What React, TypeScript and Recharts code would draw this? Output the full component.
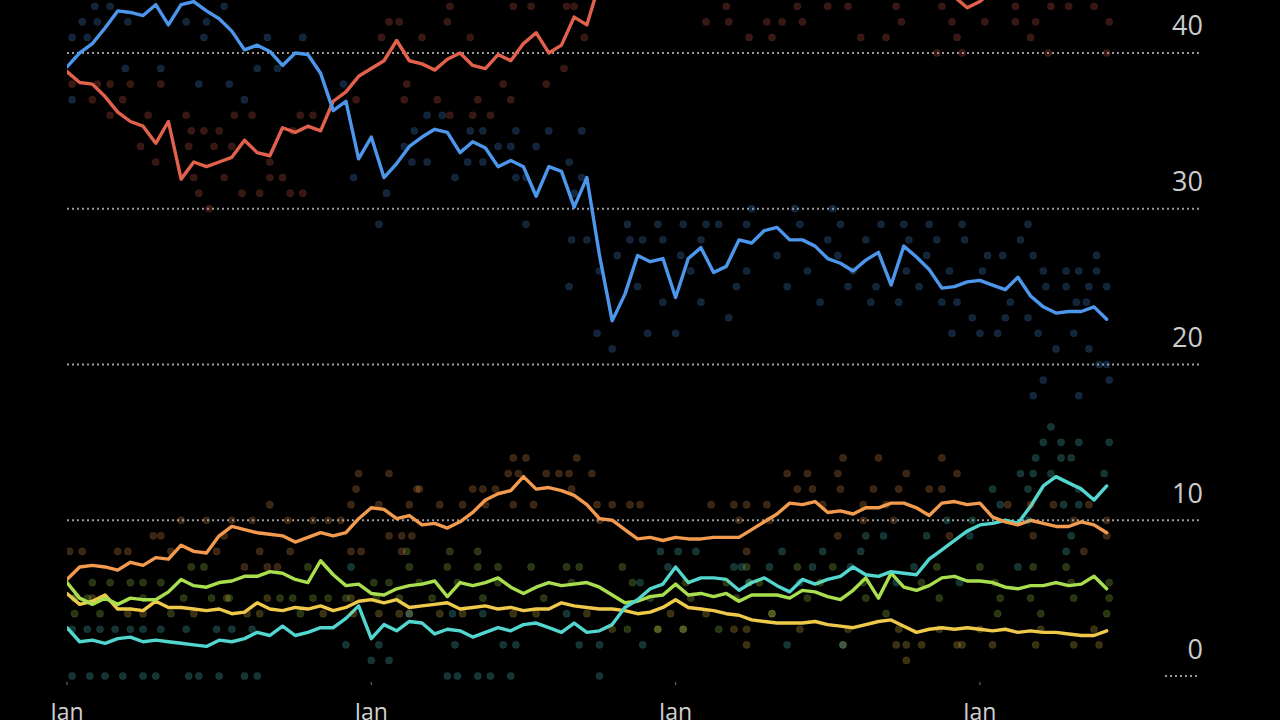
import React from 'react';
import { ComposedChart, Line, Scatter, XAxis, YAxis, CartesianGrid, ReferenceLine } from 'recharts';

// polling averages, one value every half month from January of the first year
const blue = [
  39.1, 40.0, 40.6, 41.6, 42.7, 42.6, 42.4, 43.1, 41.8, 43.1, 43.3, 42.7, 42.2, 41.4, 40.2, 40.5, 40.1, 39.2, 40.0, 39.9,
  38.7, 36.3, 36.9, 33.2, 34.6, 32.0, 32.9, 34.0, 34.6, 35.1, 34.9, 33.6, 34.3, 33.9, 32.7, 33.1, 32.7, 30.8, 32.7, 32.4,
  30.1, 32.0, 27.0, 22.8, 24.5, 27.0, 26.6, 26.8, 24.3, 26.8, 27.5, 25.9, 26.3, 28.0, 27.8, 28.6, 28.8, 28.0, 28.0, 27.6,
  26.8, 26.5, 26.0, 26.7, 27.2, 25.1, 27.6, 26.9, 26.1, 24.9, 25.0, 25.3, 25.4, 25.1, 24.8, 25.6, 24.4, 23.7, 23.3, 23.4,
  23.4, 23.7, 22.9,
];
const red = [
  38.8, 38.1, 38.0, 37.2, 36.2, 35.6, 35.3, 34.2, 35.6, 31.9, 33.0, 32.7, 33.0, 33.3, 34.4, 33.6, 33.4, 35.2, 34.9, 35.3,
  35.0, 36.9, 37.5, 38.5, 39.0, 39.5, 40.8, 39.5, 39.3, 38.9, 39.6, 40.0, 39.2, 39.0, 39.9, 39.5, 40.6, 41.3, 40.0, 40.5,
  42.3, 41.8, 44.5, 46.0, 47.0, 48.0, 47.0, 46.5, 46.0, 46.0, 47.0, 46.0, 45.5, 46.0, 45.0, 45.0, 45.5, 46.0, 45.0, 45.0,
  46.0, 45.0, 45.0, 45.5, 45.0, 44.5, 45.0, 44.5, 44.2, 44.0, 43.6, 42.9, 43.3, 44.0, 45.0, 44.5, 44.5, 44.8, 44.5, 44.3,
  44.5, 44.2, 44.0,
];
const orange = [
  6.2, 7.0, 7.1, 7.0, 6.8, 7.3, 7.1, 7.6, 7.5, 8.4, 8.0, 7.9, 9.0, 9.6, 9.4, 9.2, 9.1, 9.0, 8.6, 8.9,
  9.2, 9.0, 9.2, 10.1, 10.8, 10.7, 10.1, 10.3, 9.7, 9.8, 9.5, 9.9, 10.5, 11.3, 11.7, 11.9, 12.8, 12.0, 12.1, 11.9,
  11.6, 11.0, 10.1, 10.0, 9.4, 8.8, 8.9, 8.7, 8.9, 8.8, 8.8, 8.9, 8.9, 8.9, 9.4, 9.9, 10.4, 11.1, 11.0, 11.2,
  10.5, 10.6, 10.4, 10.8, 10.8, 11.1, 11.1, 10.8, 10.3, 11.1, 11.2, 11.0, 11.1, 10.2, 9.9, 9.7, 10.0, 9.8, 9.6, 9.6,
  9.9, 9.7, 9.2,
];
const green = [
  6.0, 5.0, 4.6, 5.0, 4.6, 5.0, 4.9, 4.9, 5.4, 6.2, 5.8, 5.7, 6.0, 6.1, 6.4, 6.4, 6.7, 6.6, 6.2, 6.0,
  7.4, 6.5, 5.8, 5.9, 5.3, 5.2, 5.6, 5.8, 5.9, 6.1, 5.1, 6.0, 5.8, 6.0, 6.3, 5.7, 5.3, 5.7, 6.0, 5.8,
  5.9, 6.0, 5.7, 5.2, 4.7, 4.8, 5.1, 5.2, 5.9, 5.2, 5.3, 5.1, 5.3, 4.8, 5.2, 5.2, 5.2, 5.0, 5.5, 5.4,
  5.1, 4.9, 5.5, 6.3, 5.0, 6.6, 5.7, 5.5, 5.8, 6.3, 6.4, 6.1, 6.1, 6.0, 5.7, 5.6, 5.8, 5.8, 6.0, 5.8,
  5.9, 6.4, 5.6,
];
const cyan = [
  3.1, 2.2, 2.3, 2.1, 2.4, 2.5, 2.2, 2.3, 2.2, 2.1, 2.0, 1.9, 2.3, 2.2, 2.4, 2.8, 2.6, 3.2, 2.6, 2.8,
  3.1, 3.1, 3.7, 4.5, 2.4, 3.3, 2.9, 3.5, 3.4, 2.7, 3.0, 2.9, 2.5, 2.8, 3.1, 2.9, 3.3, 3.4, 3.1, 2.8,
  3.4, 2.8, 2.9, 3.3, 4.4, 4.9, 5.6, 5.9, 7.0, 6.0, 6.3, 6.3, 6.2, 5.5, 6.0, 6.3, 5.8, 5.4, 6.2, 5.9,
  6.2, 6.4, 7.0, 6.5, 6.4, 6.7, 6.6, 6.5, 7.5, 8.1, 8.7, 9.3, 9.7, 9.8, 10.0, 9.8, 10.9, 12.2, 12.8, 12.4,
  12.0, 11.3, 12.2,
];
const yellow = [
  5.3, 4.6, 4.8, 5.2, 4.3, 4.3, 4.2, 4.8, 4.4, 4.4, 4.3, 4.2, 4.3, 4.0, 4.1, 4.7, 4.3, 4.2, 4.4, 4.3,
  4.5, 4.2, 4.4, 4.8, 4.9, 4.7, 4.9, 4.4, 4.5, 4.6, 4.7, 4.3, 4.4, 4.5, 4.3, 4.4, 4.2, 4.3, 4.3, 4.7,
  4.5, 4.4, 4.3, 4.3, 4.2, 4.0, 4.1, 4.4, 4.9, 4.4, 4.3, 4.2, 4.0, 3.9, 3.6, 3.5, 3.4, 3.4, 3.4, 3.5,
  3.3, 3.2, 3.1, 3.3, 3.5, 3.6, 3.2, 2.8, 3.0, 3.1, 3.0, 3.1, 3.0, 2.9, 3.0, 2.8, 2.9, 2.8, 2.8, 2.7,
  2.6, 2.6, 2.9,
];

// individual polls: [month, share]
const bluePolls = [
  [1.1, 43], [1.7, 43], [6.2, 43], [0.6, 42], [1.2, 42], [2.4, 42], [4.7, 42], [5.5, 42],
  [0.2, 41], [0.8, 41], [5.4, 41], [7.9, 41], [9.3, 41], [2.3, 39], [3.7, 39], [7.5, 39], [8.3, 39],
  [5.2, 38], [6.4, 38], [10.9, 38], [0.2, 37], [7.0, 37], [14.2, 36], [14.8, 36],
  [13.7, 35], [15.9, 35], [16.4, 35], [17.7, 35], [19.0, 35], [20.3, 35],
  [13.3, 34], [17.0, 34], [17.5, 34], [18.5, 34], [13.6, 33], [14.2, 33], [15.8, 33], [16.4, 33], [19.8, 33],
  [11.3, 32], [15.3, 32], [17.7, 32], [18.1, 32], [20.3, 32], [12.6, 31], [20.0, 31],
  [27.0, 30], [28.7, 30], [30.2, 30],
  [12.3, 29], [18.1, 29], [22.1, 29], [23.3, 29], [24.3, 29], [25.2, 29], [25.7, 29], [26.8, 29], [28.9, 29],
  [30.5, 29], [32.1, 29], [33.0, 29], [34.0, 29], [35.3, 29], [37.9, 29],
  [19.9, 28], [20.5, 28], [22.2, 28], [22.7, 28], [23.5, 28], [25.0, 28], [30.0, 28], [31.5, 28], [33.2, 28],
  [34.3, 28], [35.4, 28], [37.6, 28],
  [21.7, 27], [24.2, 27], [28.0, 27], [30.4, 27], [33.9, 27], [36.3, 27], [36.9, 27], [38.1, 27], [40.6, 27],
  [21.0, 26], [24.6, 26], [26.8, 26], [29.2, 26], [31.0, 26], [33.1, 26], [34.8, 26], [36.1, 26], [38.5, 26],
  [39.4, 26], [39.9, 26], [40.6, 26],
  [19.8, 25], [22.5, 25], [26.4, 25], [28.4, 25], [30.8, 25], [31.9, 25], [33.6, 25], [38.6, 25], [39.4, 25],
  [40.3, 25], [41.0, 25],
  [23.5, 24], [25.0, 24], [29.7, 24], [31.7, 24], [32.8, 24], [34.5, 24], [35.1, 24], [37.2, 24], [39.8, 24], [40.2, 24],
  [26.1, 23], [35.7, 23], [37.0, 23], [37.9, 23],
  [20.9, 22], [22.9, 22], [24.0, 22], [34.9, 22], [36.0, 22], [36.7, 22], [38.3, 22], [39.7, 22],
  [21.5, 21], [39.0, 21], [40.3, 21], [40.7, 20], [41.0, 20], [38.5, 19], [41.1, 19], [38.1, 18], [39.9, 18],
];
const redPolls = [
  [15.1, 43], [17.6, 43], [18.3, 43], [19.7, 43], [20.0, 43], [26.0, 43], [28.8, 43], [30.0, 43], [30.8, 43],
  [32.7, 43], [34.5, 43], [37.4, 43], [38.8, 43], [39.5, 43], [40.5, 43],
  [12.7, 42], [13.1, 42], [15.0, 42], [25.2, 42], [26.1, 42], [27.6, 42], [28.2, 42], [29.0, 42], [32.9, 42],
  [34.9, 42], [36.2, 42], [37.4, 42], [38.2, 42], [41.1, 42],
  [12.4, 41], [14.0, 41], [15.9, 41], [20.4, 41], [26.9, 41], [27.8, 41], [31.3, 41], [32.3, 41], [35.1, 41], [38.0, 41],
  [34.3, 40], [35.3, 40], [38.7, 40], [41.0, 40], [19.6, 39],
  [0.2, 38], [1.2, 38], [1.7, 38], [2.5, 38], [3.7, 38], [13.4, 38], [17.2, 38], [18.9, 38],
  [1.0, 37], [2.2, 37], [11.4, 37], [13.3, 37], [14.6, 37], [16.2, 37], [17.5, 37],
  [1.7, 36], [3.2, 36], [4.7, 36], [6.6, 36], [7.3, 36], [9.2, 36], [9.7, 36], [15.1, 36], [16.0, 36], [16.7, 36],
  [4.9, 35], [5.4, 35], [6.0, 35], [8.9, 35], [2.9, 34], [4.8, 34], [5.8, 34], [6.5, 34], [3.5, 33], [8.0, 33],
  [5.0, 32], [6.2, 32], [8.0, 32], [8.5, 32], [5.2, 31], [6.9, 31], [7.6, 31], [8.8, 31], [9.3, 31], [5.6, 30],
];
const orangePolls = [
  [17.6, 14], [18.1, 14], [20.1, 14], [30.6, 14], [32.0, 14], [34.5, 14],
  [11.5, 13], [12.7, 13], [17.4, 13], [17.8, 13], [18.9, 13], [19.4, 13], [19.8, 13], [20.7, 13], [28.4, 13],
  [29.2, 13], [30.4, 13], [33.1, 13], [35.1, 13],
  [11.4, 12], [13.8, 12], [13.9, 12], [16.0, 12], [16.4, 12], [16.9, 12], [19.9, 12], [28.8, 12], [29.4, 12],
  [30.5, 12], [31.8, 12], [32.8, 12], [34.0, 12], [34.5, 12],
  [8.0, 11], [11.2, 11], [12.3, 11], [13.5, 11], [14.7, 11], [15.6, 11], [16.5, 11], [17.6, 11], [18.4, 11],
  [20.9, 11], [21.5, 11], [22.2, 11], [22.6, 11], [25.4, 11], [26.3, 11], [26.8, 11], [27.6, 11], [29.8, 11],
  [31.4, 11], [32.3, 11], [37.1, 11], [38.0, 11], [38.9, 11], [40.3, 11],
  [4.5, 10], [5.5, 10], [6.5, 10], [7.3, 10], [8.7, 10], [9.7, 10], [10.3, 10], [10.8, 10], [21.0, 10], [26.5, 10],
  [27.7, 10], [31.4, 10], [32.6, 10], [39.7, 10], [41.0, 10],
  [3.4, 9], [3.7, 9], [6.2, 9], [12.7, 9], [13.2, 9], [13.6, 9], [30.4, 9], [34.8, 9], [38.1, 9], [41.0, 9],
  [0.1, 8], [0.6, 8], [2.0, 8], [2.4, 8], [4.1, 8], [5.9, 8], [7.6, 8], [8.8, 8], [11.2, 8], [11.6, 8], [13.2, 8],
  [26.8, 8], [40.1, 8], [7.0, 7], [7.9, 7], [8.3, 7],
];
const greenPolls = [
  [13.4, 8], [15.1, 8], [16.2, 8],
  [4.9, 7], [5.4, 7], [9.5, 7], [13.5, 7], [15.0, 7], [16.2, 7], [17.0, 7], [18.3, 7], [19.7, 7], [20.2, 7],
  [21.9, 7], [26.8, 7], [28.8, 7], [30.2, 7], [34.3, 7], [36.0, 7], [38.1, 7], [39.4, 7],
  [1.0, 6], [1.7, 6], [2.5, 6], [3.0, 6], [3.7, 6], [12.1, 6], [12.7, 6], [13.9, 6], [15.4, 6], [17.0, 6],
  [19.9, 6], [22.3, 6], [24.4, 6], [26.0, 6], [26.9, 6], [27.3, 6], [29.7, 6], [31.4, 6], [33.7, 6], [36.6, 6],
  [39.6, 6], [41.1, 6],
  [0.3, 5], [0.8, 5], [3.0, 5], [4.6, 5], [5.7, 5], [6.4, 5], [8.4, 5], [8.9, 5], [9.7, 5], [10.3, 5], [11.0, 5],
  [12.2, 5], [13.1, 5], [14.4, 5], [16.4, 5], [18.8, 5], [23.0, 5], [24.6, 5], [26.4, 5], [29.2, 5], [31.5, 5],
  [34.4, 5], [36.8, 5], [38.0, 5], [39.7, 5], [41.1, 5],
  [0.3, 4], [1.3, 4], [4.1, 4], [9.2, 4], [27.8, 4], [32.3, 4], [36.7, 4], [38.4, 4], [41.0, 4],
  [22.1, 3], [23.3, 3], [24.3, 3], [25.7, 3],
];
const yellowPolls = [
  [0.3, 5], [1.0, 5], [6.3, 5], [7.9, 5], [11.2, 5],
  [2.4, 4], [3.0, 4], [5.0, 4], [7.1, 4], [7.6, 4], [10.1, 4], [11.3, 4], [12.3, 4], [13.1, 4], [13.5, 4],
  [14.7, 4], [15.6, 4], [17.6, 4], [18.5, 4], [20.5, 4], [23.8, 4], [25.2, 4], [27.8, 4],
  [21.5, 3], [23.3, 3], [24.3, 3], [26.3, 3], [26.8, 3], [28.9, 3], [30.8, 3], [32.8, 3], [34.4, 3], [36.0, 3],
  [38.4, 3], [40.5, 3],
  [26.8, 2], [30.6, 2], [32.7, 2], [33.1, 2], [33.7, 2], [35.1, 2], [35.3, 2], [36.5, 2], [38.2, 2], [39.7, 2],
  [40.7, 2], [33.1, 1],
];
const cyanPolls = [
  [38.8, 16], [38.5, 15], [39.2, 15], [39.9, 15], [41.1, 15], [38.2, 14], [39.2, 14], [39.6, 14],
  [37.6, 13], [38.1, 13], [38.8, 13], [40.9, 13], [36.5, 12], [37.9, 12], [39.9, 12],
  [36.8, 11], [39.3, 11], [39.9, 11], [34.7, 10], [35.7, 10], [37.9, 10],
  [31.5, 9], [32.2, 9], [33.9, 9], [35.6, 9], [39.6, 9],
  [23.4, 8], [24.1, 8], [24.8, 8], [28.2, 8], [29.8, 8], [31.3, 8], [39.4, 8],
  [11.2, 7], [23.7, 7], [26.3, 7], [26.6, 7], [27.7, 7], [29.4, 7], [30.9, 7], [33.4, 7], [37.5, 7],
  [22.6, 6], [26.9, 6], [28.9, 6], [32.7, 6], [35.2, 6],
  [13.5, 4], [15.2, 4], [16.4, 4], [19.7, 4],
  [0.2, 3], [0.8, 3], [1.3, 3], [1.9, 3], [2.5, 3], [3.0, 3], [3.7, 3], [4.7, 3], [5.9, 3], [6.5, 3], [7.3, 3],
  [11.0, 2], [12.3, 2], [15.3, 2], [17.2, 2], [17.7, 2], [20.2, 2], [21.0, 2], [22.7, 2], [28.4, 2], [30.6, 2],
  [12.0, 1], [12.7, 1],
  [0.2, 0], [0.9, 0], [1.5, 0], [2.2, 0], [3.0, 0], [3.5, 0], [4.8, 0], [5.2, 0], [6.0, 0], [7.0, 0], [7.5, 0],
  [15.0, 0], [15.4, 0], [16.2, 0], [16.7, 0], [17.5, 0], [21.0, 0],
];

const yTicks = [0, 10, 20, 30, 40];
const janTicks = [0, 12, 24, 36];

const STEP = 0.5;
const rows = blue.map((b, i) => ({
  m: i * STEP,
  blue: b,
  red: red[i],
  orange: orange[i],
  green: green[i],
  cyan: cyan[i],
  yellow: yellow[i],
}));

const toPts = (list: number[][]) => list.map(([m, v]) => ({ m, v }));

const series = [
  { key: 'yellow', color: '#efc94a', polls: yellowPolls },
  { key: 'green', color: '#a9df4f', polls: greenPolls },
  { key: 'cyan', color: '#52d6cf', polls: cyanPolls },
  { key: 'orange', color: '#f29a4e', polls: orangePolls },
  { key: 'red', color: '#e2614d', polls: redPolls },
  { key: 'blue', color: '#4c97ec', polls: bluePolls },
];

const font = "'Open Sans', 'Noto Sans', sans-serif";
const gridColor = '#9a9a9a';

const YTick = (props: any) => (
  <text x={props.x + 3} y={props.y - 28} textAnchor="end" dominantBaseline="central" fill="#cccccc" fontSize={27} fontFamily={font}>
    {props.payload.value}
  </text>
);

const XTick = (props: any) => (
  <text x={props.x} y={props.y + 35} textAnchor="middle" fill="#d0d0d0" fontSize={23} fontFamily={font}>
    Jan
  </text>
);

const Dot = (color: string) => (p: any) => (
  <circle cx={p.cx} cy={p.cy} r={3.6} fill={color} fillOpacity={0.24} stroke={color} strokeOpacity={0.1} />
);

export default function App() {
  return (
    <div style={{ position: 'absolute', left: 0, top: 0, width: 1280, height: 720, background: '#000', overflow: 'hidden' }}>
      <ComposedChart width={1280} height={720} data={rows} margin={{ top: 0, right: 0, bottom: 0, left: 67 }}>
        <CartesianGrid
          horizontal
          vertical={false}
          horizontalValues={[10, 20, 30, 40]}
          stroke={gridColor}
          strokeDasharray="2 3"
          strokeWidth={2}
        />
        <ReferenceLine segment={[{ x: 43.3, y: 0 }, { x: 44.68, y: 0 }]} stroke={gridColor} strokeDasharray="2 3" strokeWidth={2} />
        <XAxis
          dataKey="m"
          type="number"
          domain={[0, 44.68]}
          ticks={janTicks}
          allowDataOverflow
          height={38}
          axisLine={false}
          tickLine={{ stroke: '#777' }}
          tickSize={3}
          tickMargin={0}
          tick={XTick}
        />
        <YAxis
          type="number"
          orientation="right"
          domain={[-0.385, 43.4]}
          ticks={yTicks}
          allowDataOverflow
          width={80}
          axisLine={false}
          tickLine={false}
          tickSize={0}
          tickMargin={0}
          tick={YTick}
        />
        {series.map((s) => (
          <Scatter key={s.key + '-polls'} data={toPts(s.polls)} dataKey="v" shape={Dot(s.color)} isAnimationActive={false} />
        ))}
        {series.map((s) => (
          <Line
            key={s.key}
            dataKey={s.key}
            type="linear"
            stroke={s.color}
            strokeWidth={3.4}
            strokeLinejoin="round"
            strokeLinecap="round"
            dot={false}
            activeDot={false}
            isAnimationActive={false}
          />
        ))}
      </ComposedChart>
    </div>
  );
}
